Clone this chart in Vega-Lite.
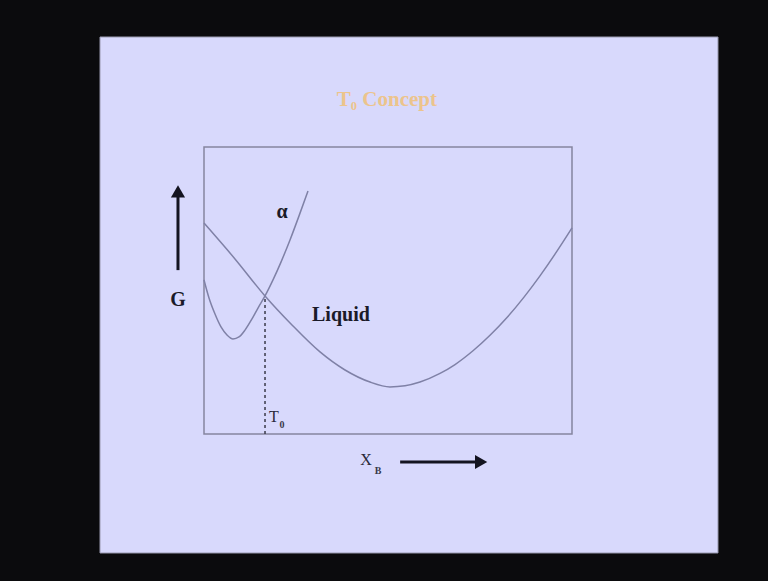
{
  "$schema": "https://vega.github.io/schema/vega-lite/v6.json",
  "width": 768,
  "height": 581,
  "padding": 0,
  "autosize": {"type": "fit", "contains": "padding"},
  "background": "#0b0b0d",
  "config": {"view": {"stroke": null}},
  "datasets": {
    "slide": [{"x": -0.2826, "x2": 1.3967, "y": -0.4146, "y2": 1.3833}],
    "frame": [{"x": 0, "x2": 1, "y": 0, "y2": 1}],
    "curves": [
      {"phase": "Liquid", "x": 0, "g": 0.735},
      {"phase": "Liquid", "x": 0.0842, "g": 0.61},
      {"phase": "Liquid", "x": 0.1658, "g": 0.481},
      {"phase": "Liquid", "x": 0.2391, "g": 0.38},
      {"phase": "Liquid", "x": 0.3152, "g": 0.286},
      {"phase": "Liquid", "x": 0.3832, "g": 0.223},
      {"phase": "Liquid", "x": 0.4511, "g": 0.181},
      {"phase": "Liquid", "x": 0.5054, "g": 0.164},
      {"phase": "Liquid", "x": 0.5462, "g": 0.168},
      {"phase": "Liquid", "x": 0.587, "g": 0.181},
      {"phase": "Liquid", "x": 0.6413, "g": 0.211},
      {"phase": "Liquid", "x": 0.6821, "g": 0.242},
      {"phase": "Liquid", "x": 0.731, "g": 0.29},
      {"phase": "Liquid", "x": 0.7772, "g": 0.344},
      {"phase": "Liquid", "x": 0.8234, "g": 0.406},
      {"phase": "Liquid", "x": 0.8696, "g": 0.477},
      {"phase": "Liquid", "x": 0.913, "g": 0.551},
      {"phase": "Liquid", "x": 0.9592, "g": 0.637},
      {"phase": "Liquid", "x": 1.0, "g": 0.718},
      {"phase": "alpha", "x": 0, "g": 0.537},
      {"phase": "alpha", "x": 0.0136, "g": 0.474},
      {"phase": "alpha", "x": 0.0299, "g": 0.418},
      {"phase": "alpha", "x": 0.0462, "g": 0.373},
      {"phase": "alpha", "x": 0.0625, "g": 0.345},
      {"phase": "alpha", "x": 0.0788, "g": 0.331},
      {"phase": "alpha", "x": 0.0951, "g": 0.338},
      {"phase": "alpha", "x": 0.1114, "g": 0.362},
      {"phase": "alpha", "x": 0.1304, "g": 0.401},
      {"phase": "alpha", "x": 0.1467, "g": 0.439},
      {"phase": "alpha", "x": 0.1658, "g": 0.481},
      {"phase": "alpha", "x": 0.1875, "g": 0.537},
      {"phase": "alpha", "x": 0.2092, "g": 0.599},
      {"phase": "alpha", "x": 0.2337, "g": 0.676},
      {"phase": "alpha", "x": 0.2582, "g": 0.76},
      {"phase": "alpha", "x": 0.2826, "g": 0.847}
    ],
    "t0line": [{"x": 0.1658, "y": 0, "y2": 0.481}],
    "arrowShaftV": [{"x": -0.0707, "y": 0.571, "y2": 0.83}],
    "arrowHeadV": [{"x": -0.0707, "y": 0.845}],
    "arrowShaftH": [{"x": 0.533, "x2": 0.74, "y": -0.0976}],
    "arrowHeadH": [{"x": 0.753, "y": -0.0976}],
    "bigLabels": [
      {"label": "α", "x": 0.212, "y": 0.774},
      {"label": "Liquid", "x": 0.372, "y": 0.415},
      {"label": "G", "x": -0.0707, "y": 0.467}
    ],
    "smallLabels": [
      {"label": "T", "x": 0.19, "y": 0.059},
      {"label": "X", "x": 0.44, "y": -0.091}
    ],
    "subLabels": [
      {"label": "0", "x": 0.212, "y": 0.031},
      {"label": "B", "x": 0.473, "y": -0.128}
    ],
    "title": [{"label": "T₀ Concept", "x": 0.497, "y": 1.164}]
  },
  "encoding": {
    "x": {"type": "quantitative", "scale": {"domain": [-0.55435, 1.53261], "nice": false, "zero": false}, "axis": null},
    "y": {"type": "quantitative", "scale": {"domain": [-0.5122, 1.5122], "nice": false, "zero": false}, "axis": null}
  },
  "layer": [
    {
      "data": {"name": "slide"},
      "mark": {"type": "rect", "fill": "#d8d9fc", "stroke": "#9a9ab0", "strokeWidth": 1},
      "encoding": {"x": {"field": "x", "type": "quantitative"}, "x2": {"field": "x2"}, "y": {"field": "y", "type": "quantitative"}, "y2": {"field": "y2"}}
    },
    {
      "data": {"name": "frame"},
      "mark": {"type": "rect", "fill": null, "fillOpacity": 0, "stroke": "#85859f", "strokeWidth": 1.5},
      "encoding": {"x": {"field": "x", "type": "quantitative"}, "x2": {"field": "x2"}, "y": {"field": "y", "type": "quantitative"}, "y2": {"field": "y2"}}
    },
    {
      "data": {"name": "curves"},
      "mark": {"type": "line", "interpolate": "monotone", "color": "#7f81a6", "strokeWidth": 1.5},
      "encoding": {"x": {"field": "x", "type": "quantitative"}, "y": {"field": "g", "type": "quantitative"}, "detail": {"field": "phase"}}
    },
    {
      "data": {"name": "t0line"},
      "mark": {"type": "rule", "color": "#3a3a4a", "strokeWidth": 1.5, "strokeDash": [3, 3]},
      "encoding": {"x": {"field": "x", "type": "quantitative"}, "y": {"field": "y", "type": "quantitative"}, "y2": {"field": "y2"}}
    },
    {
      "data": {"name": "arrowShaftV"},
      "mark": {"type": "rule", "color": "#141420", "strokeWidth": 3},
      "encoding": {"x": {"field": "x", "type": "quantitative"}, "y": {"field": "y", "type": "quantitative"}, "y2": {"field": "y2"}}
    },
    {
      "data": {"name": "arrowHeadV"},
      "mark": {"type": "point", "shape": "triangle-up", "filled": true, "color": "#141420", "size": 200, "opacity": 1},
      "encoding": {"x": {"field": "x", "type": "quantitative"}, "y": {"field": "y", "type": "quantitative"}}
    },
    {
      "data": {"name": "arrowShaftH"},
      "mark": {"type": "rule", "color": "#141420", "strokeWidth": 3},
      "encoding": {"x": {"field": "x", "type": "quantitative"}, "x2": {"field": "x2"}, "y": {"field": "y", "type": "quantitative"}}
    },
    {
      "data": {"name": "arrowHeadH"},
      "mark": {"type": "point", "shape": "triangle-right", "filled": true, "color": "#141420", "size": 200, "opacity": 1},
      "encoding": {"x": {"field": "x", "type": "quantitative"}, "y": {"field": "y", "type": "quantitative"}}
    },
    {
      "data": {"name": "bigLabels"},
      "mark": {"type": "text", "font": "Liberation Serif", "fontWeight": "bold", "fontSize": 20, "color": "#1a1a28", "align": "center", "baseline": "middle"},
      "encoding": {"x": {"field": "x", "type": "quantitative"}, "y": {"field": "y", "type": "quantitative"}, "text": {"field": "label"}}
    },
    {
      "data": {"name": "smallLabels"},
      "mark": {"type": "text", "font": "Liberation Serif", "fontSize": 16, "color": "#2a2a3a", "align": "center", "baseline": "middle"},
      "encoding": {"x": {"field": "x", "type": "quantitative"}, "y": {"field": "y", "type": "quantitative"}, "text": {"field": "label"}}
    },
    {
      "data": {"name": "subLabels"},
      "mark": {"type": "text", "font": "Liberation Serif", "fontWeight": "bold", "fontSize": 10, "color": "#3a3a4a", "align": "center", "baseline": "middle"},
      "encoding": {"x": {"field": "x", "type": "quantitative"}, "y": {"field": "y", "type": "quantitative"}, "text": {"field": "label"}}
    },
    {
      "data": {"name": "title"},
      "mark": {"type": "text", "font": "Liberation Serif", "fontWeight": "bold", "fontSize": 21, "color": "#ecc48c", "align": "center", "baseline": "middle"},
      "encoding": {"x": {"field": "x", "type": "quantitative"}, "y": {"field": "y", "type": "quantitative"}, "text": {"field": "label"}}
    }
  ]
}
